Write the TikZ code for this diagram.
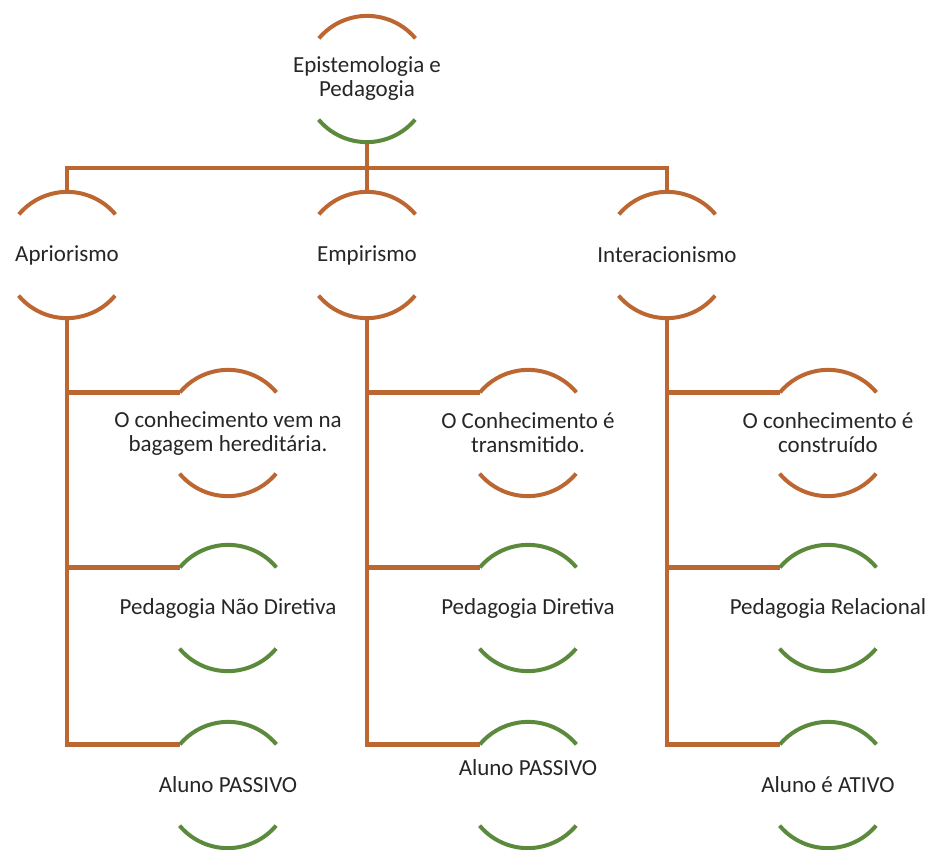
\documentclass[tikz,border=0pt]{standalone}
\usepackage{fontspec}
\setmainfont{Carlito}
\definecolor{brn}{HTML}{BC6731}
\definecolor{grn}{HTML}{5B8A3C}
\definecolor{ink}{HTML}{262626}
% two arcs of a ring: name, colour of the upper arc, colour of the lower arc
\newcommand\ringarcs[3]{%
  \draw[arcstroke,#2] (#1.40) arc[start angle=40,end angle=140,radius=63pt];
  \draw[arcstroke,#3] (#1.220) arc[start angle=220,end angle=320,radius=63pt];}
\begin{document}
\begin{tikzpicture}[x=1pt,y=-1pt,
  ring/.style={circle,minimum size=126pt,inner sep=0pt},
  lbl/.style={font=\fontsize{23}{24}\selectfont,align=center,text=ink,inner sep=0pt},
  conn/.style={draw=brn,line width=4.5pt},
  arcstroke/.style={line width=4pt}]
\useasboundingbox (0,0) rectangle (929,849);

% rings
\node[ring] (root) at (367,79) {};
\node[ring] (apr) at (67,255) {};
\node[ring] (emp) at (367,255) {};
\node[ring] (int) at (667,255) {};
\node[ring] (a1) at (228,433) {};
\node[ring] (a2) at (228,608) {};
\node[ring] (a3) at (228,785) {};
\node[ring] (e1) at (528,433) {};
\node[ring] (e2) at (528,608) {};
\node[ring] (e3) at (528,785) {};
\node[ring] (i1) at (828,433) {};
\node[ring] (i2) at (828,608) {};
\node[ring] (i3) at (828,785) {};

% connectors
\draw[conn] (root.south) -- (emp.north);
\draw[conn] (apr.north) -- ++(0,-24) -| (int.north);
\foreach \p/\c in {apr/a,emp/e,int/i}{
  \draw[conn] (\p.south) |- (\c3.140);
  \draw[conn] (\p.south |- \c1.140) -- (\c1.140);
  \draw[conn] (\p.south |- \c2.140) -- (\c2.140);
}

% arcs
\ringarcs{root}{brn}{grn}
\foreach \n in {apr,emp,int,a1,e1,i1}{\ringarcs{\n}{brn}{brn}}
\foreach \n in {a2,a3,e2,e3,i2,i3}{\ringarcs{\n}{grn}{grn}}

% labels
\node[lbl] (rootT) at ([yshift=1pt]root) {Epistemologia e\\Pedagogia};
\node[lbl] (aprT) at (apr) {Apriorismo};
\node[lbl] (empT) at (emp) {Empirismo};
\node[lbl] (intT) at (int) {Interacionismo};
\node[lbl] (a1T) at (a1) {O conhecimento vem na\\bagagem hereditária.};
\node[lbl] (e1T) at (e1) {O Conhecimento é\\transmitido.};
\node[lbl] (i1T) at (i1) {O conhecimento é\\construído};
\node[lbl] (a2T) at (a2) {Pedagogia Não Diretiva};
\node[lbl] (e2T) at (e2) {Pedagogia Diretiva};
\node[lbl] (i2T) at (i2) {Pedagogia Relacional};
\node[lbl] (a3T) at (a3) {Aluno PASSIVO};
\node[lbl] (e3T) at ([yshift=17pt]e3) {Aluno PASSIVO};
\node[lbl] (i3T) at (i3) {Aluno é ATIVO};
\end{tikzpicture}
\end{document}
